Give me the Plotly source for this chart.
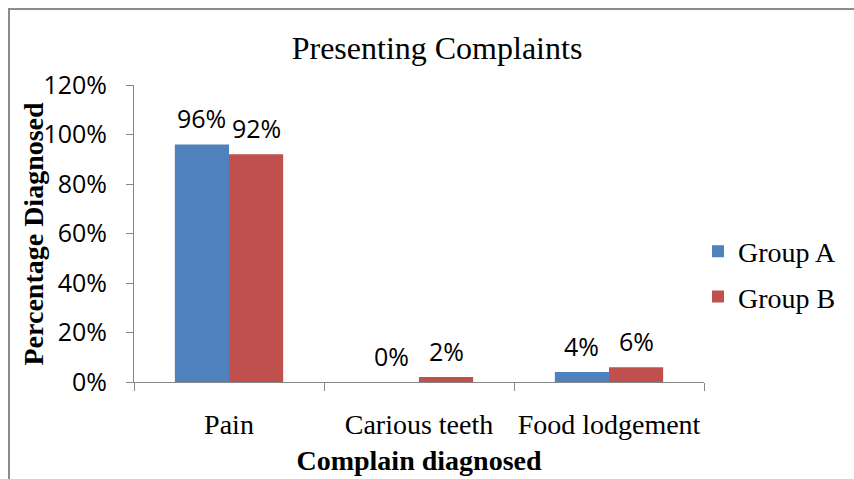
import plotly.graph_objects as go

categories = ["Pain", "Carious teeth", "Food lodgement"]
group_a = [0.96, 0.00, 0.04]
group_b = [0.92, 0.02, 0.06]
series_names = ["Group A", "Group B"]
colors = ["#4F81BD", "#C0504D"]
y_ticks = [0, 0.2, 0.4, 0.6, 0.8, 1.0, 1.2]

BARGAP = 0.43
SERIF = "Liberation Serif, Times New Roman, serif"
SANS = "'Open Sans', Calibri, sans-serif"
LABEL_SIZE = 25

fig = go.Figure()
for i, (name, vals) in enumerate(zip(series_names, [group_a, group_b])):
    fig.add_trace(go.Bar(
        x=categories, y=vals, name=name,
        marker=dict(color=colors[i], line=dict(width=0)),
        legendgroup=name,
    ))

W, H = 854, 479
L, R, T, B = 134, 150, 85, 97
pw, ph = W - L - R, H - T - B

def px_x(px):
    return (px - L) / pw

def px_y(py):
    return (H - B - py) / ph

# data labels
half = (1 - BARGAP) / 4
annotations = []
for i, vals in enumerate([group_a, group_b]):
    off = -half if i == 0 else half
    for j, v in enumerate(vals):
        annotations.append(dict(
            x=j + off, y=v, xref="x", yref="y",
            text=f"{round(v * 100)}%", showarrow=False,
            yanchor="middle", yshift=26,
            font=dict(family=SANS, size=LABEL_SIZE, color="black"),
        ))

# y axis title
annotations.append(dict(
    x=px_x(33), y=0.5, xref="paper", yref="paper",
    text="<b>Percentage Diagnosed</b>", showarrow=False, textangle=-90,
    xanchor="center", yanchor="middle",
    font=dict(family=SERIF, size=28, color="black"),
))

fig.update_layout(
    width=W, height=H,
    margin=dict(l=L, r=R, t=T, b=B, pad=0, autoexpand=False),
    paper_bgcolor="white", plot_bgcolor="white",
    bargap=BARGAP, bargroupgap=0, barmode="group",
    title=dict(text="Presenting Complaints", x=(437) / W, xanchor="center",
               y=1 - 48 / H, yanchor="middle",
               font=dict(family=SERIF, size=32, color="black")),
    xaxis=dict(
        showline=True, linecolor="#868686", linewidth=1,
        ticks="outside", tickson="boundaries", ticklen=8, tickcolor="#868686",
        tickfont=dict(family=SERIF, size=28, color="black"),
        tickangle=0, automargin=False,
        ticklabelstandoff=17,
        title=dict(text="<b>Complain diagnosed</b>", standoff=11,
                   font=dict(family=SERIF, size=28, color="black")),
        showgrid=False,
    ),
    yaxis=dict(
        range=[0, 1.2], tickvals=y_ticks, tickformat=".0%",
        showline=True, linecolor="#868686", linewidth=1,
        ticks="outside", ticklen=7, tickcolor="#868686",
        tickfont=dict(family=SANS, size=LABEL_SIZE, color="black"),
        ticklabelstandoff=14, automargin=False,
        showgrid=False, zeroline=False,
    ),
    legend=dict(
        x=px_x(698), xanchor="left", y=px_y(274), yanchor="middle",
        font=dict(family=SERIF, size=28, color="black"),
        tracegroupgap=6, bgcolor="rgba(0,0,0,0)",
    ),
    annotations=annotations,
    shapes=[dict(
        type="path", xref="paper", yref="paper",
        path=f"M {px_x(9)},{px_y(600)} L {px_x(9)},{px_y(9)} L {px_x(1000)},{px_y(9)}",
        line=dict(color="#8C8C8C", width=2),
    )],
    showlegend=True,
)

fig.write_html("out.html", config={"displayModeBar": False},
               post_script="document.body.style.margin='0px';")
